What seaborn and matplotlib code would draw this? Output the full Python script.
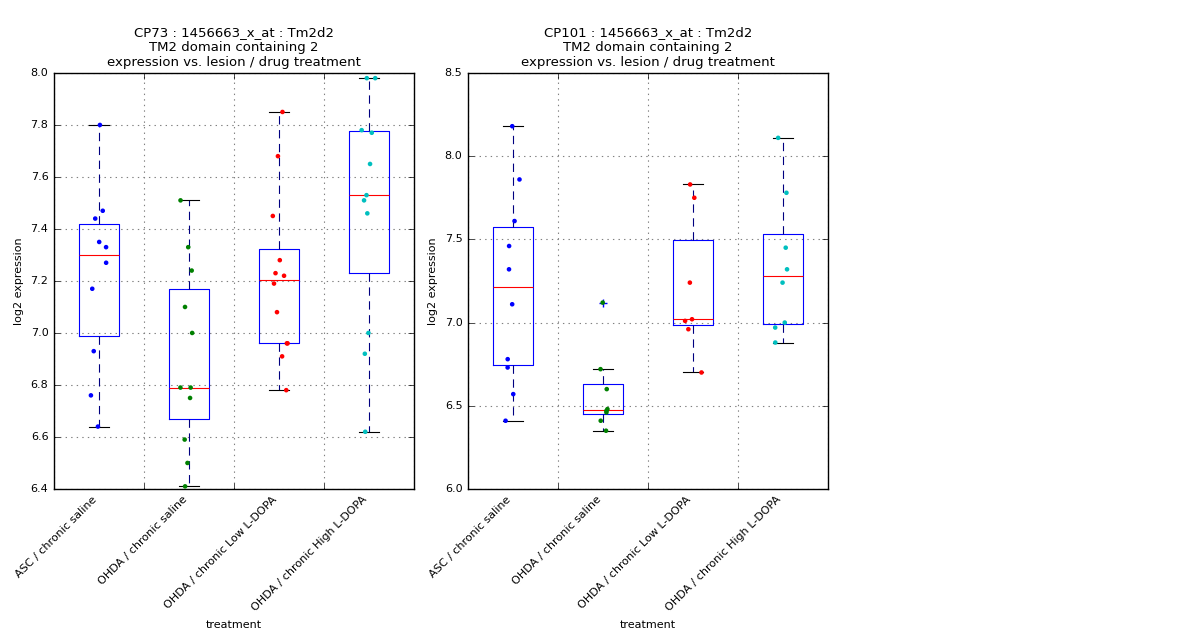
import numpy as np
import pandas as pd
import matplotlib
matplotlib.use("Agg")
import matplotlib.pyplot as plt
import seaborn as sns

np.random.seed(3)

groups = ["ASC / chronic saline", "OHDA / chronic saline",
          "OHDA / chronic Low L-DOPA", "OHDA / chronic High L-DOPA"]
point_colors = ["blue", "green", "red", "c"]

cp73_asc = [7.80, 7.47, 7.44, 7.35, 7.33, 7.27, 7.17, 6.93, 6.76, 6.64]
cp73_ohda = [7.51, 7.33, 7.24, 7.10, 7.00, 6.79, 6.79, 6.75, 6.59, 6.50, 6.41]
cp73_low = [7.85, 7.68, 7.45, 7.28, 7.22, 7.23, 7.19, 7.08, 6.96, 6.96, 6.91, 6.78]
cp73_high = [7.98, 7.98, 7.78, 7.77, 7.65, 7.53, 7.51, 7.46, 7.00, 6.92, 6.62]

cp101_asc = [8.18, 7.86, 7.61, 7.46, 7.32, 7.11, 6.78, 6.73, 6.57, 6.41]
cp101_ohda = [7.12, 6.72, 6.60, 6.48, 6.47, 6.46, 6.41, 6.35]
cp101_low = [7.83, 7.75, 7.24, 7.02, 7.01, 6.96, 6.70]
cp101_high = [8.11, 7.78, 7.45, 7.32, 7.24, 7.00, 6.97, 6.88]

panels = [
    ("CP73 : 1456663_x_at : Tm2d2\nTM2 domain containing 2\nexpression vs. lesion / drug treatment",
     [cp73_asc, cp73_ohda, cp73_low, cp73_high], (6.4, 8.0), np.arange(6.4, 8.01, 0.2)),
    ("CP101 : 1456663_x_at : Tm2d2\nTM2 domain containing 2\nexpression vs. lesion / drug treatment",
     [cp101_asc, cp101_ohda, cp101_low, cp101_high], (6.0, 8.5), np.arange(6.0, 8.51, 0.5)),
]

plt.style.use("classic")
fig = plt.figure(figsize=(12, 6.4), dpi=100, facecolor="white")
axes = [fig.add_axes([0.045, 0.236, 0.3, 0.65]), fig.add_axes([0.39, 0.236, 0.3, 0.65])]

for ax, (title, vals, ylim, yt) in zip(axes, panels):
    df = pd.DataFrame({
        "treatment": np.concatenate([[g] * len(v) for g, v in zip(groups, vals)]),
        "expr": np.concatenate(vals),
    })
    sns.boxplot(data=df, x="treatment", y="expr", order=groups, ax=ax, fill=False,
                width=0.45, color="blue", linewidth=0.8,
                boxprops={"color": "blue"},
                whiskerprops={"color": "navy", "linestyle": (0, (6, 4))},
                capprops={"color": "black"},
                medianprops={"color": "red"},
                flierprops={"marker": "+", "markeredgecolor": "blue", "markersize": 6})
    sns.stripplot(data=df, x="treatment", y="expr", order=groups, hue="treatment",
                  palette=point_colors, jitter=0.1, size=3.3, ax=ax, legend=False, zorder=3)
    ax.set_ylim(*ylim)
    ax.set_yticks(yt)
    ax.set_yticklabels([f"{t:.1f}" for t in yt], fontsize=8)
    ax.set_xlim(-0.5, 3.5)
    ax.set_xticks([-0.5, 0.5, 1.5, 2.5, 3.5], minor=False)
    ax.set_xticks(range(4), minor=True)
    ax.set_xticklabels([""] * 5)
    ax.set_xticklabels(groups, minor=True, rotation=45, ha="right", fontsize=8)
    ax.tick_params(axis="x", which="minor", length=0)
    ax.grid(True, color="gray", linestyle=":", linewidth=0.8)
    ax.set_axisbelow(True)
    ax.set_xlabel("treatment", fontsize=8)
    ax.set_ylabel("log2 expression", fontsize=8)
    ax.set_title(title, fontsize=9.5)

fig.savefig("out.png", dpi=100, facecolor="white")
